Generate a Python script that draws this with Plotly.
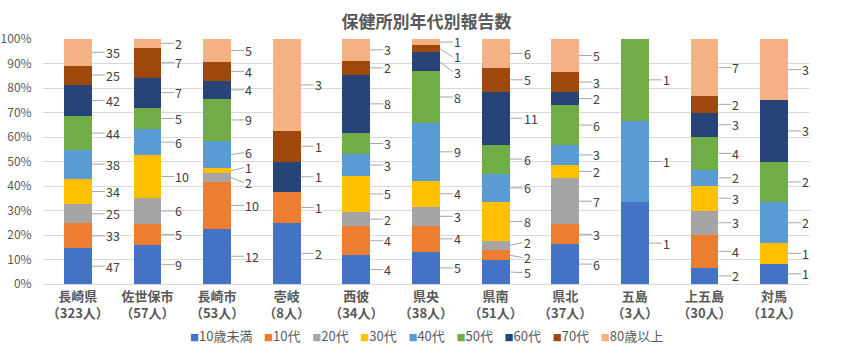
import plotly.graph_objects as go

categories = ["長崎県<br>（323人）", "佐世保市<br>（57人）", "長崎市<br>（53人）", "壱岐<br>（8人）",
              "西彼<br>（34人）", "県央<br>（38人）", "県南<br>（51人）", "県北<br>（37人）",
              "五島<br>（3人）", "上五島<br>（30人）", "対馬<br>（12人）"]

series_names = ["10歳未満", "10代", "20代", "30代", "40代", "50代", "60代", "70代", "80歳以上"]

under10 = [47, 9, 12, 2, 4, 5, 5, 6, 1, 2, 1]
teens   = [33, 5, 10, 1, 4, 4, 2, 3, 0, 4, 0]
twenties = [25, 6, 2, 0, 2, 3, 2, 7, 0, 3, 0]
thirties = [34, 10, 1, 0, 5, 4, 8, 2, 0, 3, 1]
forties = [38, 6, 6, 0, 3, 9, 6, 3, 1, 2, 2]
fifties = [44, 5, 9, 0, 3, 8, 6, 6, 1, 4, 2]
sixties = [42, 7, 4, 1, 8, 3, 11, 2, 0, 3, 3]
seventies = [25, 7, 4, 1, 2, 1, 5, 3, 0, 2, 0]
over80 = [35, 2, 5, 3, 3, 1, 6, 5, 0, 7, 3]

series_values = [under10, teens, twenties, thirties, forties, fifties, sixties, seventies, over80]
colors = ["#4472C4", "#ED7D31", "#A5A5A5", "#FFC000", "#5B9BD5", "#70AD47", "#264478", "#9E480E", "#F4B183"]

FONT = "Noto Sans CJK JP"
W, H = 849, 356
ML, MR, MT, MB = 43, 39, 39, 72
PLOT_H = H - MT - MB
GAP = 15  # min vertical spacing of labels in px

fig = go.Figure()
for name, vals, col in zip(series_names, series_values, colors):
    fig.add_trace(go.Bar(name=name, x=categories, y=vals, marker_color=col,
                         marker_line_width=0, hoverinfo="skip", showlegend=False))


def spread(desired, gap, top_limit):
    # cluster-based de-overlap; desired sorted ascending
    groups = [[d] for d in desired]
    changed = True
    while changed:
        changed = False
        out = []
        for g in groups:
            if out:
                prev = out[-1]
                pc = sum(prev) / len(prev)
                ptop = pc + (len(prev) - 1) / 2 * gap
                gc = sum(g) / len(g)
                gbot = gc - (len(g) - 1) / 2 * gap
                if gbot - ptop < gap:
                    out[-1] = prev + g
                    changed = True
                    continue
            out.append(g)
        groups = out
    res = []
    for g in groups:
        c = sum(g) / len(g)
        n = len(g)
        res += [c + (j - (n - 1) / 2) * gap for j in range(n)]
    if res:
        res[-1] = min(res[-1], top_limit)
        for k in range(len(res) - 2, -1, -1):
            res[k] = min(res[k], res[k + 1] - gap)
    return res


totals = [sum(s[i] for s in series_values) for i in range(len(categories))]
annotations = []
for i in range(len(categories)):
    cum = 0
    items = []
    for vals in series_values:
        v = vals[i]
        if v > 0:
            mid = (cum + v / 2) / totals[i] * 100
            items.append((mid, v))
        cum += v
    desired = [m / 100 * PLOT_H for m, _ in items]
    placed = spread(desired, GAP, PLOT_H - 3)
    for (mid, v), d, p in zip(items, desired, placed):
        annotations.append(dict(
            x=i + 0.2, y=mid, xref="x", yref="y", text=str(v),
            showarrow=True, arrowhead=0, arrowwidth=1, arrowcolor="#A6A6A6",
            ax=13, ay=-(p - d), xanchor="left", yanchor="middle", standoff=0, startstandoff=0,
            borderpad=0, font=dict(family=FONT, size=12.5, color="#404040")))

# legend drawn as a single text line
legend_parts = []
for name, col in zip(series_names, colors):
    legend_parts.append(f"<span style='color:{col};font-size:9px'>■</span>{name}")
legend_text = "&nbsp;&nbsp;&nbsp;&nbsp;".join(legend_parts)
annotations.append(dict(text=legend_text, x=0.5, xref="paper", y=-(336 - (H - MB)) / PLOT_H,
                        yref="paper", xanchor="center", yanchor="middle", showarrow=False,
                        font=dict(family=FONT, size=13, color="#595959")))

fig.update_layout(
    barmode="stack", barnorm="percent", bargap=0.6,
    width=W, height=H,
    margin=dict(l=ML, r=MR, t=MT, b=MB, autoexpand=False),
    paper_bgcolor="white", plot_bgcolor="white",
    font=dict(family=FONT, color="#595959"),
    title=dict(text="<b>保健所別年代別報告数</b>", x=0.5, xanchor="center", xref="paper",
               y=1 - 22 / H, yref="container", yanchor="middle",
               font=dict(family=FONT, size=17, color="#595959")),
    annotations=annotations,
    showlegend=False,
    xaxis=dict(type="category", showgrid=False, showline=True, linecolor="#D9D9D9", linewidth=1,
               tickfont=dict(family=FONT, size=13, color="#595959"), ticks="", automargin=False,
               tickprefix="<b>", ticksuffix="</b>"),
    yaxis=dict(range=[0, 100], dtick=10, ticksuffix="%", showgrid=True, gridcolor="#D9D9D9",
               zeroline=False, tickfont=dict(family=FONT, size=12, color="#595959"), automargin=False,
               ticks="outside", ticklen=8, tickcolor="rgba(0,0,0,0)"),
)
fig.write_html("out.html", config={"displayModeBar": False},
               post_script="document.body.style.margin='0';")
